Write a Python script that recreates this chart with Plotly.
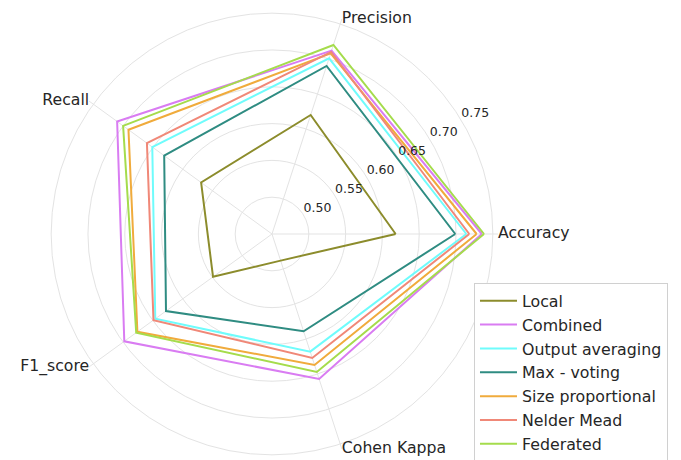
import math
import plotly.graph_objects as go

categories = ["Accuracy", "Precision", "Recall", "F1_score", "Cohen Kappa"]

series_names = ["Local", "Combined", "Output averaging", "Max - voting",
                "Size proportional", "Nelder Mead", "Federated"]

local = [0.618, 0.620, 0.569, 0.549, 0.488]
combined = [0.735, 0.712, 0.710, 0.698, 0.657]
output_averaging = [0.714, 0.701, 0.651, 0.646, 0.618]
max_voting = [0.699, 0.690, 0.631, 0.628, 0.589]
size_proportional = [0.728, 0.708, 0.691, 0.676, 0.637]
nelder_mead = [0.718, 0.710, 0.660, 0.649, 0.627]
federated = [0.738, 0.720, 0.700, 0.678, 0.647]

series_values = [local, combined, output_averaging, max_voting,
                 size_proportional, nelder_mead, federated]

colors = ["#8c8c2c", "#d97cf2", "#6ffcfc", "#2f8c82",
          "#f0ab3c", "#f08878", "#a5dc4c"]

radial_ticks = [0.50, 0.55, 0.60, 0.65, 0.70, 0.75]
radial_tick_labels = ["0.50", "0.55", "0.60", "0.65", "0.70", "0.75"]

n = len(categories)
angles = [i * 360.0 / n for i in range(n)]

# style constants
R_MIN, R_MAX = 0.45, 0.757
LABEL_ANGLE = 31.0       # direction of the radial tick labels
font_family = "DejaVu Sans, sans-serif"
TEXT = "#262626"
GRID = "#e3e3e3"
W, H = 673, 452          # page body has an 8px margin in the viewer

fig = go.Figure()
for name, vals, col in zip(series_names, series_values, colors):
    fig.add_trace(go.Scatterpolar(
        r=vals + vals[:1],
        theta=angles + angles[:1],
        thetaunit="degrees",
        mode="lines",
        name=name,
        legendgroup=name,
        line=dict(color=col, width=2),
    ))

# radial tick labels
fig.add_trace(go.Scatterpolar(
    r=radial_ticks,
    theta=[LABEL_ANGLE] * len(radial_ticks),
    mode="text",
    text=radial_tick_labels,
    textfont=dict(size=12.5, color=TEXT, family=font_family),
    textposition="top right",
    showlegend=False,
    hoverinfo="skip",
    cliponaxis=False,
))

# category labels just outside the plotting circle
positions = []
for a in angles:
    c = math.cos(math.radians(a))
    positions.append("middle right" if c > 0.01 else ("middle left" if c < -0.01 else "top center"))
fig.add_trace(go.Scatterpolar(
    r=[R_MAX] * n,
    theta=angles,
    mode="text",
    text=categories,
    textfont=dict(size=15.7, color=TEXT, family=font_family),
    textposition=positions,
    showlegend=False,
    hoverinfo="skip",
    cliponaxis=False,
))

fig.update_layout(
    width=W, height=H,
    margin=dict(l=0, r=0, t=0, b=0, autoexpand=False),
    paper_bgcolor="white",
    font=dict(family=font_family, color=TEXT),
    polar=dict(
        domain=dict(x=[0.05646, 0.72808], y=[0.0, 1.0]),
        bgcolor="white",
        radialaxis=dict(
            range=[R_MIN, R_MAX],
            tickvals=radial_ticks,
            showticklabels=False,
            showline=False,
            ticks="",
            gridcolor=GRID,
            gridwidth=1,
        ),
        angularaxis=dict(
            rotation=0,
            direction="counterclockwise",
            tickmode="array",
            tickvals=angles,
            showticklabels=False,
            showline=False,
            gridcolor=GRID,
            ticks="",
        ),
    ),
    legend=dict(
        x=0.6924, y=0.3916, xanchor="left", yanchor="top",
        bordercolor="#d0d0d0", borderwidth=1, bgcolor="white",
        font=dict(size=15.8, color=TEXT),
        itemwidth=37,
        traceorder="grouped", tracegroupgap=0.3,
    ),
    showlegend=True,
)

fig.write_html("out.html")
